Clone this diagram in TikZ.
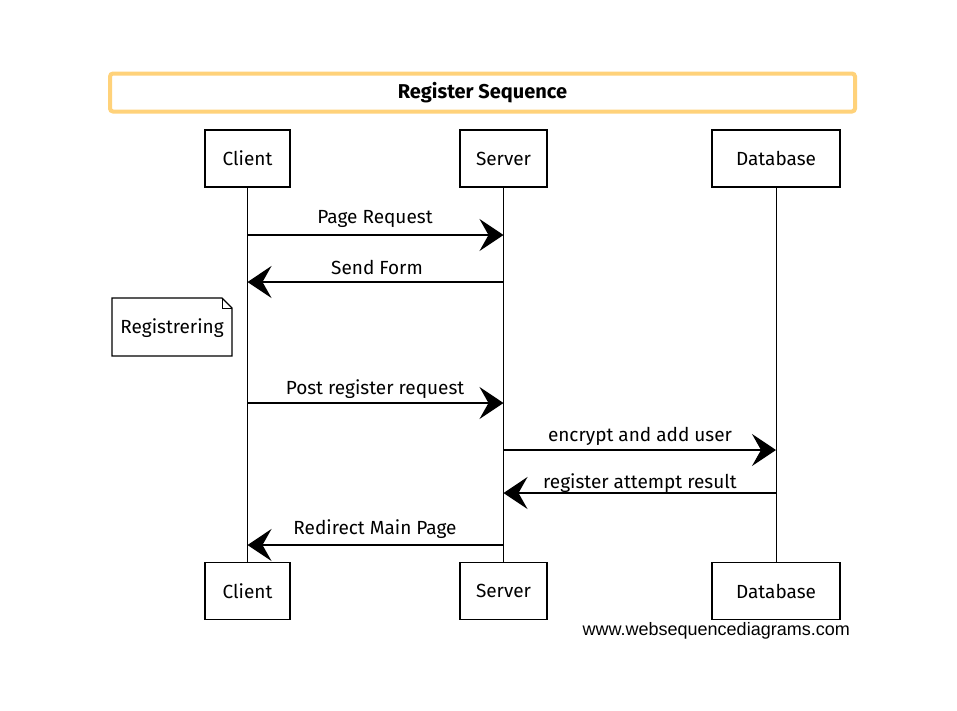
\documentclass[tikz,border=0pt]{standalone}
\usepackage{fontspec}
\setmainfont{Fira Sans}
\newfontfamily\wmfont{Liberation Sans}
\usetikzlibrary{arrows.meta,shapes.misc}
\definecolor{titleorange}{HTML}{FFD27A}
\tikzset{
  actorbox/.style={draw, line width=1.1pt, minimum width=85pt, minimum height=57pt, font=\fontsize{19}{22}\selectfont},
  dbbox/.style={actorbox, minimum width=128pt},
  lifeline/.style={line width=1pt},
  msg/.style={line width=1.3pt, -{Stealth[length=24pt, width=32pt, inset=9pt]}},
  msglabel/.style={font=\fontsize{19}{22}\selectfont, inner sep=0pt},
}
\begin{document}
\begin{tikzpicture}[x=1pt,y=-1pt]
\useasboundingbox (0,0) rectangle (957,710);
\fill[white] (0,0) rectangle (957,710);
% title
\node[draw=titleorange, line width=4pt, rounded corners=3pt, minimum width=745pt, minimum height=38pt, font=\fontsize{20}{23}\selectfont\bfseries] (title) at (482.5,92.5) {Register Sequence};
% actors top
\node[actorbox] (ct) at (247.5,158.5) {Client};
\node[actorbox, minimum width=87pt] (st) at (503.5,158.5) {Server};
\node[dbbox] (dt) at (776,158.5) {Database};
% actors bottom
\node[actorbox] (cb) at (247.5,591) {Client};
\node[actorbox, minimum width=87pt] (sb) at (503.5,591) {Server};
\node[dbbox] (db) at (776,591) {Database};
% lifelines
\draw[lifeline] (ct.south) -- (cb.north);
\draw[lifeline] (st.south) -- (sb.north);
\draw[lifeline] (dt.south) -- (db.north);
% message anchors
\coordinate (c1) at (ct.south |- 0,235); \coordinate (s1) at (st.south |- 0,235);
\coordinate (c2) at (ct.south |- 0,282); \coordinate (s2) at (st.south |- 0,282);
\coordinate (c3) at (ct.south |- 0,403); \coordinate (s3) at (st.south |- 0,403);
\coordinate (s4) at (st.south |- 0,450); \coordinate (d4) at (dt.south |- 0,450);
\coordinate (s5) at (st.south |- 0,493); \coordinate (d5) at (dt.south |- 0,493);
\coordinate (c6) at (ct.south |- 0,545); \coordinate (s6) at (st.south |- 0,545);
% messages
\draw[msg] (c1) -- (s1);
\node[msglabel] (l1) at (375,219) {Page Request};
\draw[msg] (s2) -- (c2);
\node[msglabel] (l2) at (377,267) {Send Form};
\draw[msg] (c3) -- (s3);
\node[msglabel] (l3) at (375,389) {Post register request};
\draw[msg] (s4) -- (d4);
\node[msglabel] (l4) at (640,436) {encrypt and add user};
\draw[msg] (d5) -- (s5);
\node[msglabel] (l5) at (640,483) {register attempt result};
\draw[msg] (s6) -- (c6);
\node[msglabel] (l6) at (375,529) {Redirect Main Page};
% note
\draw[line width=1.2pt] (112,298) -- (222,298) -- (232,308) -- (232,356) -- (112,356) -- cycle;
\draw[line width=0.8pt] (222,298) -- (222,308) -- (232,308);
\node[msglabel] (note) at (172,328) {Registrering};
% watermark
\node[font=\wmfont\fontsize{18}{21}\selectfont, inner sep=0pt, anchor=east] (wm) at (850,631) {www.websequencediagrams.com};
\end{tikzpicture}
\end{document}
